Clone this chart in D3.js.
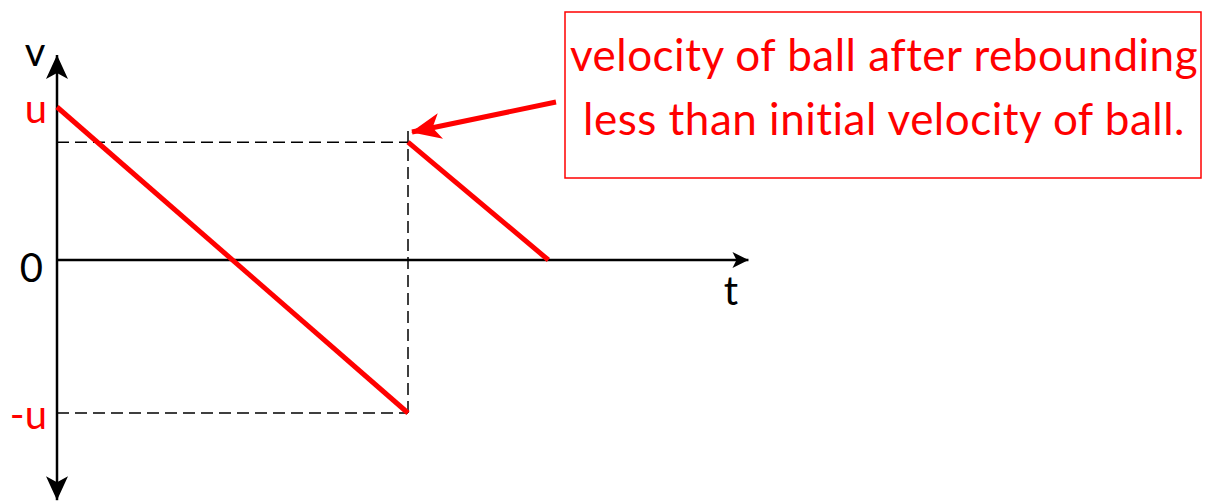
<!DOCTYPE html>
<html>
<head>
<meta charset="utf-8">
<script src="https://cdn.jsdelivr.net/npm/d3@7"></script>
<style>
  body { margin: 0; background: #fff; }
  svg text { font-family: Lato, "Open Sans", sans-serif; }
</style>
</head>
<body>
<div id="chart"></div>
<script>
// velocity-time graph of a ball thrown up and rebounding
const fallT = [0, 1];
const fallV = [1, -1];
const reboundT = [1, 1.4];
const reboundV = [0.77, 0];
const axisT = [0, 1.97];
const axisV = [-1.57, 1.34];
const vTicks = [{ v: 1, label: "u", color: "red" }, { v: 0, label: "0", color: "black" }, { v: -1, label: "-u", color: "red" }];
const noteLines = ["velocity of ball after rebounding", "less than initial velocity of ball."];

const width = 1208, height = 501;
const svg = d3.select("#chart").append("svg")
    .attr("width", width)
    .attr("height", height);

const x = d3.scaleLinear().domain([0, 1]).range([57, 408]);
const y = d3.scaleLinear().domain([-1, 1]).range([413, 107]);

const defs = svg.append("defs");
defs.append("marker")
    .attr("id", "bigHead")
    .attr("viewBox", "0 0 24 22")
    .attr("refX", 24).attr("refY", 11)
    .attr("markerWidth", 24).attr("markerHeight", 22)
    .attr("markerUnits", "userSpaceOnUse")
    .attr("orient", "auto")
    .append("path").attr("d", "M0,0 L24,11 L0,22 L6,11 Z").attr("fill", "black");
defs.append("marker")
    .attr("id", "smallHead")
    .attr("viewBox", "0 0 16 16")
    .attr("refX", 16).attr("refY", 8)
    .attr("markerWidth", 16).attr("markerHeight", 16)
    .attr("markerUnits", "userSpaceOnUse")
    .attr("orient", "auto")
    .append("path").attr("d", "M0,0 L16,8 L0,16 L4,8 Z").attr("fill", "black");
defs.append("marker")
    .attr("id", "redHead")
    .attr("viewBox", "0 0 30 30")
    .attr("refX", 29).attr("refY", 15)
    .attr("markerWidth", 30).attr("markerHeight", 30)
    .attr("markerUnits", "userSpaceOnUse")
    .attr("orient", "auto")
    .append("path").attr("d", "M0,2 L30,15 L0,28 L8,15 Z").attr("fill", "red");

// dashed guide lines
const guides = svg.append("g")
    .attr("stroke", "black")
    .attr("stroke-width", 1.5)
    .attr("stroke-dasharray", "12,6");
guides.append("line")
    .attr("x1", x(0)).attr("x2", x(1))
    .attr("y1", y(reboundV[0])).attr("y2", y(reboundV[0]));
guides.append("line")
    .attr("x1", x(0)).attr("x2", x(1))
    .attr("y1", y(-1)).attr("y2", y(-1));
guides.append("line")
    .attr("x1", x(1)).attr("x2", x(1))
    .attr("y1", y(-1)).attr("y2", y(reboundV[0]) - 13);

// axes
svg.append("line")
    .attr("x1", x(0)).attr("x2", x(0))
    .attr("y1", y(0)).attr("y2", y(axisV[1]))
    .attr("stroke", "black").attr("stroke-width", 2.5)
    .attr("marker-end", "url(#bigHead)");
svg.append("line")
    .attr("x1", x(0)).attr("x2", x(0))
    .attr("y1", y(0)).attr("y2", y(axisV[0]))
    .attr("stroke", "black").attr("stroke-width", 2.5)
    .attr("marker-end", "url(#bigHead)");
svg.append("line")
    .attr("x1", x(axisT[0])).attr("x2", x(axisT[1]))
    .attr("y1", y(0)).attr("y2", y(0))
    .attr("stroke", "black").attr("stroke-width", 2.5)
    .attr("marker-end", "url(#smallHead)");

// velocity lines
const line = d3.line().x(d => x(d[0])).y(d => y(d[1]));
svg.append("path")
    .datum(d3.zip(fallT, fallV))
    .attr("d", line)
    .attr("stroke", "red").attr("stroke-width", 5).attr("fill", "none");
svg.append("path")
    .datum(d3.zip(reboundT, reboundV))
    .attr("d", line)
    .attr("stroke", "red").attr("stroke-width", 5).attr("fill", "none");

// axis labels
svg.append("text").text("v")
    .attr("x", 35).attr("y", 66)
    .attr("text-anchor", "middle")
    .attr("font-size", 40);
svg.append("text").text("t")
    .attr("x", 731).attr("y", 305)
    .attr("text-anchor", "middle")
    .attr("font-size", 40);
svg.selectAll(".vtick").data(vTicks).enter()
    .append("text")
    .attr("class", "vtick")
    .text(d => d.label)
    .attr("x", d => d.v === 0 ? 43 : 47)
    .attr("y", d => y(d.v) + (d.v === 0 ? 22 : 16))
    .attr("text-anchor", "end")
    .attr("fill", d => d.color)
    .attr("font-size", 40);

// annotation box
svg.append("rect")
    .attr("x", 565).attr("y", 12)
    .attr("width", 636).attr("height", 166)
    .attr("fill", "none")
    .attr("stroke", "red").attr("stroke-width", 1.5);
svg.selectAll(".note").data(noteLines).enter()
    .append("text")
    .attr("class", "note")
    .text(d => d)
    .attr("x", 884)
    .attr("y", (d, i) => 71 + i * 64)
    .attr("text-anchor", "middle")
    .attr("fill", "red")
    .attr("font-size", 44)
    .attr("letter-spacing", 0.5);

svg.append("line")
    .attr("x1", 556).attr("y1", 102)
    .attr("x2", x(1) + 4).attr("y2", 132)
    .attr("stroke", "red").attr("stroke-width", 5)
    .attr("marker-end", "url(#redHead)");
</script>
</body>
</html>
